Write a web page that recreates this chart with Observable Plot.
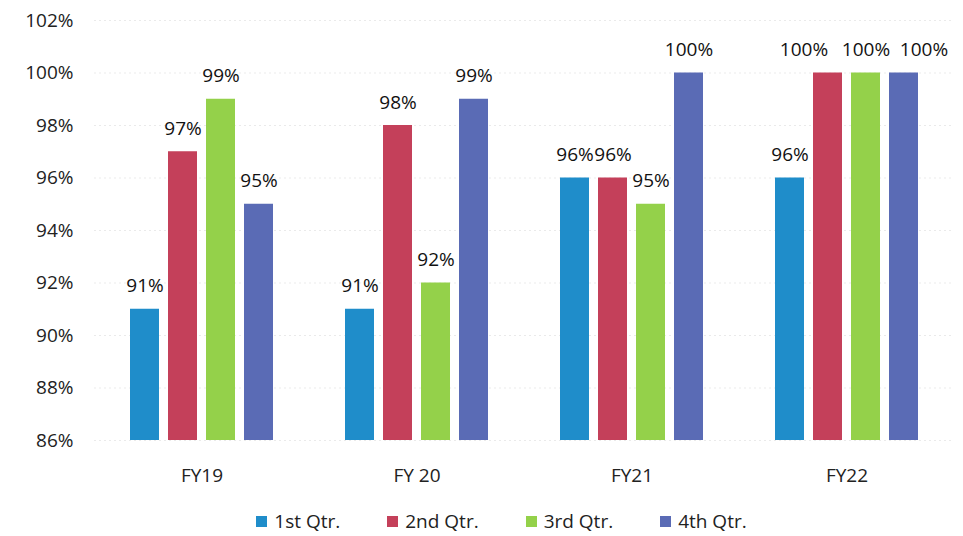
<!DOCTYPE html>
<html><head><meta charset="utf-8">
<script src="https://cdn.jsdelivr.net/npm/d3@7"></script>
<script src="https://cdn.jsdelivr.net/npm/@observablehq/plot@0.6"></script>
<style>
body{margin:0;background:#fff;font-family:"Open Sans",sans-serif;}
#legend{display:flex;justify-content:center;gap:47px;font-size:19px;color:#222;margin-top:8px;padding-left:40px}
#legend span{display:inline-flex;align-items:center}
#legend i{display:inline-block;width:11px;height:11px;margin-right:7px}
</style></head><body>
<div id="chart"></div>
<div id="legend"></div>
<script>
const years = ["FY19", "FY 20", "FY21", "FY22"];
const quarters = ["1st Qtr.", "2nd Qtr.", "3rd Qtr.", "4th Qtr."];
const q1 = [91, 91, 96, 96];
const q2 = [97, 98, 96, 100];
const q3 = [99, 92, 95, 100];
const q4 = [95, 99, 100, 100];
const colors = ["#1f8dca", "#c4405a", "#94d14a", "#5a6bb5"];
const yTicks = [86, 88, 90, 92, 94, 96, 98, 100, 102];

const series = [q1, q2, q3, q4];
const data = [];
years.forEach((y, i) => quarters.forEach((q, j) => data.push({year: y, quarter: q, value: series[j][i]})));

// Excel nudges crowded labels sideways in the last group
const nudge = d => d.year === "FY22" ? ({"2nd Qtr.": -24, "4th Qtr.": 20}[d.quarter] || 0) : 0;

const chart = Plot.plot({
  width: 963, height: 500,
  marginTop: 20, marginBottom: 60, marginLeft: 96, marginRight: 10,
  style: {fontFamily: "'Open Sans', sans-serif", fontSize: "19px", color: "#222"},
  fx: {domain: years, paddingInner: 0.316, paddingOuter: 0.145, label: null, axis: "bottom", tickSize: 0, tickPadding: 28},
  x: {domain: quarters, paddingInner: 0.23, paddingOuter: 0, axis: null},
  y: {domain: [86, 102], ticks: yTicks, tickFormat: d => d + "%", label: null, tickSize: 0, tickPadding: 55},
  color: {domain: quarters, range: colors},
  marks: [
    Plot.ruleY(yTicks, {stroke: "#d0d0d0", strokeOpacity: 0.45, strokeDasharray: "2,3", insetLeft: -34, insetRight: -34}),
    Plot.barY(data, {fx: "year", x: "quarter", y1: 86, y2: "value", fill: "quarter"}),
    Plot.text(data, {fx: "year", x: "quarter", y: "value", text: d => d.value + "%", lineAnchor: "bottom", dy: -17, fill: "#111", fontSize: 19}),
  ]
});
// shift crowded labels
chart.querySelectorAll("g[aria-label='text']").forEach(g => {
  g.querySelectorAll("text").forEach(t => {
    const d = data[+t.__data__];
    if (d) { const n = nudge(d); if (n) t.setAttribute("dx", n); }
  });
});
document.getElementById("chart").appendChild(chart);
const lg = document.getElementById("legend");
quarters.forEach((q, i) => {
  const s = document.createElement("span");
  s.innerHTML = `<i style="background:${colors[i]}"></i>${q}`;
  lg.appendChild(s);
});
</script>
</body></html>
